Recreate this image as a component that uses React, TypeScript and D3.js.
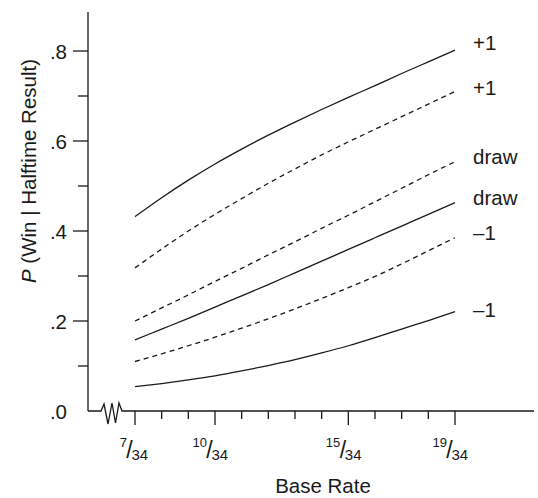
import React from "react";
import * as d3 from "d3";

const baseRateNumerators = [7, 8, 9, 10, 11, 12, 13, 14, 15, 16, 17, 18, 19];
const baseRateDenominator = 34;
const labeledNumerators = [7, 10, 15, 19];

const plusOneSolid = [0.432, 0.474, 0.513, 0.549, 0.582, 0.613, 0.642, 0.67, 0.697, 0.723, 0.75, 0.776, 0.802];
const plusOneDashed = [0.318, 0.36, 0.4, 0.437, 0.472, 0.506, 0.538, 0.569, 0.598, 0.626, 0.654, 0.682, 0.71];
const drawDashed = [0.2, 0.229, 0.258, 0.288, 0.317, 0.347, 0.376, 0.406, 0.435, 0.465, 0.495, 0.525, 0.554];
const drawSolid = [0.158, 0.182, 0.206, 0.231, 0.256, 0.281, 0.307, 0.333, 0.359, 0.385, 0.411, 0.437, 0.463];
const minusOneDashed = [0.11, 0.127, 0.145, 0.164, 0.184, 0.205, 0.227, 0.25, 0.274, 0.299, 0.327, 0.356, 0.385];
const minusOneSolid = [0.054, 0.061, 0.069, 0.078, 0.089, 0.101, 0.114, 0.129, 0.145, 0.163, 0.182, 0.201, 0.221];

const seriesLabels = ["+1", "+1", "draw", "draw", "\u20131", "\u20131"];
const seriesDashed = [false, true, true, false, true, false];
const seriesValues = [plusOneSolid, plusOneDashed, drawDashed, drawSolid, minusOneDashed, minusOneSolid];

const yMajorTicks = [0, 0.2, 0.4, 0.6, 0.8];
const yMajorLabels = [".0", ".2", ".4", ".6", ".8"];
const yMinorTicks = [0.1, 0.3, 0.5, 0.7];

const W = 538;
const H = 498;
const axisX = 88;
const axisY = 411;
const FONT = "Liberation Sans, Arial, Helvetica, sans-serif";
const INK = "#1a1a1a";

export default function App() {
  const x = d3.scaleLinear().domain([7 / 34, 19 / 34]).range([135, 455]);
  const y = d3.scaleLinear().domain([0, 0.8]).range([axisY, 51]);
  const line = d3
    .line<[number, number]>()
    .x((d) => x(d[0]))
    .y((d) => y(d[1]))
    .curve(d3.curveMonotoneX);

  const labelNudge = [0, 3, 2, 2, 2, 5];

  const zig: [number, number][] = [
    [axisX, axisY],
    [101, axisY],
    [104, axisY - 7],
    [108, axisY + 13],
    [112, axisY - 8],
    [115.5, axisY + 12],
    [119, axisY - 8],
    [122, axisY],
    [534, axisY],
  ];

  return (
    <svg
      width={W}
      height={H}
      style={{ position: "absolute", left: 0, top: 0, background: "#fff" }}
      fontFamily={FONT}
    >
      {/* y axis */}
      <line x1={axisX} y1={12} x2={axisX} y2={axisY} stroke={INK} strokeWidth={1.3} />
      {yMajorTicks.map((t, i) => (
        <g key={"ym" + i}>
          {t > 0 && (
            <line x1={axisX - 15} x2={axisX} y1={y(t)} y2={y(t)} stroke={INK} strokeWidth={1.3} />
          )}
          <text x={67} y={y(t) + 7.5} textAnchor="end" fontSize={20.5} fill={INK}>
            {yMajorLabels[i]}
          </text>
        </g>
      ))}
      {yMinorTicks.map((t, i) => (
        <line key={"yn" + i} x1={axisX - 10} x2={axisX} y1={y(t)} y2={y(t)} stroke={INK} strokeWidth={1.3} />
      ))}
      <text
        transform={`translate(36,171) rotate(-90)`}
        textAnchor="middle"
        fontSize={20.5}
        fill={INK}
      >
        <tspan fontStyle="italic">P</tspan> (Win | Halftime Result)
      </text>

      {/* x axis with break */}
      <path
        d={d3.line()(zig) || ""}
        fill="none"
        stroke={INK}
        strokeWidth={1.3}
        strokeLinejoin="miter"
      />
      {baseRateNumerators.map((n) => {
        const major = labeledNumerators.includes(n);
        const px = x(n / baseRateDenominator);
        return (
          <line
            key={"xt" + n}
            x1={px}
            x2={px}
            y1={axisY}
            y2={axisY + (major ? 14 : 8)}
            stroke={INK}
            strokeWidth={1.3}
          />
        );
      })}
      {labeledNumerators.map((n) => {
        const px = x(n / baseRateDenominator);
        return (
          <g key={"xl" + n} transform={`translate(${px},0)`} fill={INK}>
            <text x={-8} y={447} textAnchor="end" fontSize={13}>
              {n}
            </text>
            <text x={-5.5} y={458} textAnchor="middle" fontSize={23}>
              /
            </text>
            <text x={-3.5} y={460} textAnchor="start" fontSize={15}>
              {baseRateDenominator}
            </text>
          </g>
        );
      })}
      <text x={323} y={493} textAnchor="middle" fontSize={20.5} fill={INK}>
        Base Rate
      </text>

      {/* series */}
      {seriesValues.map((vals, i) => {
        const pts: [number, number][] = vals.map((v, j) => [baseRateNumerators[j] / baseRateDenominator, v]);
        const last = pts[pts.length - 1];
        return (
          <g key={"s" + i}>
            <path
              d={line(pts) || ""}
              fill="none"
              stroke={INK}
              strokeWidth={1.3}
              strokeDasharray={seriesDashed[i] ? "5,4" : undefined}
            />
            <text
              x={473}
              y={y(last[1]) + labelNudge[i]}
              fontSize={20.5}
              fill={INK}
            >
              {seriesLabels[i]}
            </text>
          </g>
        );
      })}
    </svg>
  );
}
